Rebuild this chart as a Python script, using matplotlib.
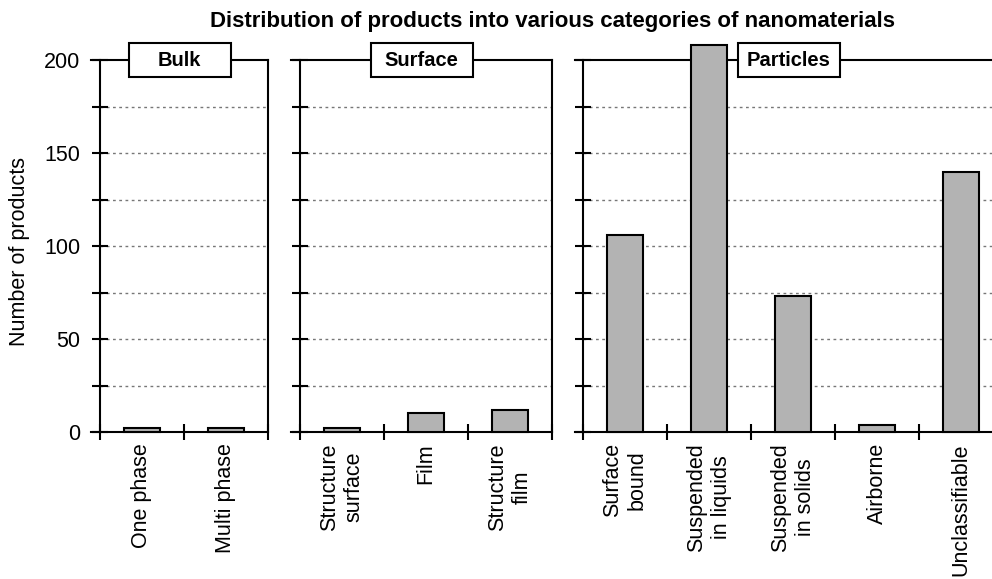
from matplotlib import pyplot as plt
from matplotlib.patches import Rectangle

plt.rcParams['font.family'] = ['Liberation Sans', 'DejaVu Sans']

# data
bulk_labels = ['One phase', 'Multi phase']
bulk_values = [2, 2]
surface_labels = ['Structure\nsurface', 'Film', 'Structure\nfilm']
surface_values = [2, 10, 12]
particle_labels = ['Surface\nbound', 'Suspended\nin liquids', 'Suspended\nin solids',
                   'Airborne', 'Unclassifiable']
particle_values = [106, 208, 73, 4, 140]
panel_titles = ['Bulk', 'Surface', 'Particles']
y_ticks = [0, 25, 50, 75, 100, 125, 150, 175, 200]
y_ticklabels = ['0', '', '50', '', '100', '', '150', '', '200']

W, H = 992, 579
fig = plt.figure(figsize=(W / 100, H / 100), dpi=100)

# panel left / right edges in pixels
panels = [
    (91, 268, bulk_labels, bulk_values),
    (291, 552, surface_labels, surface_values),
    (575, 1003, particle_labels, particle_values),
]
top_px, bot_px = 60, 432
cat_px = 84.0

for i, (l, r, labels, values) in enumerate(panels):
    n = len(values)
    ax = fig.add_axes([l / W, 1 - bot_px / H, (r - l) / W, (bot_px - top_px) / H])
    ext = (r - l) / cat_px - n
    ax.set_xlim(-0.5 - ext, n - 0.5)
    ax.set_ylim(0, 200)
    ax.spines['left'].set_position(('data', -0.5))
    for s in ax.spines.values():
        s.set_linewidth(1.5)

    x = list(range(n))
    ax.bar(x, values, width=0.44, color='#b3b3b3', edgecolor='black',
           linewidth=1.5, zorder=3, clip_on=False)
    ax.hlines(y_ticks[1:-1], -0.5, n - 0.5, colors='#777777', linestyles=(0, (2, 2.5)),
              linewidth=1.0, zorder=1)

    ax.set_yticks(y_ticks)
    if i == 0:
        ax.set_yticklabels(y_ticklabels)
    else:
        ax.set_yticklabels([])
    ax.tick_params(axis='y', direction='inout', length=12, width=1.5,
                   labelsize=15.5, pad=8)

    ax.set_xticks([k - 0.5 for k in range(n + 1)])
    ax.set_xticklabels([])
    ax.set_xticks(x, minor=True)
    ax.set_xticklabels(labels, minor=True, rotation=90, ha='center', va='top',
                       multialignment='center', fontsize=15.5)
    ax.tick_params(axis='x', which='major', direction='inout', length=12, width=1.5)
    ax.tick_params(axis='x', which='minor', length=0, pad=8)

    # boxed panel title centred on the top spine
    bw, bh = 102 / (r - l), 34 / (bot_px - top_px)
    ax.add_patch(Rectangle((0.5 - bw / 2, 1 - bh / 2), bw, bh, transform=ax.transAxes,
                           facecolor='white', edgecolor='black', linewidth=1.5,
                           zorder=5, clip_on=False))
    ax.text(0.5, 1.0, panel_titles[i], transform=ax.transAxes, ha='center',
            va='center', fontsize=14.5, fontweight='bold', zorder=6)

fig.text(20 / W, 1 - 251 / H, 'Number of products', rotation=90, ha='center',
         va='center', fontsize=15.5)
fig.text(552 / W, 1 - 22 / H,
         'Distribution of products into various categories of nanomaterials',
         ha='center', va='center', fontsize=16, fontweight='bold')

fig.savefig('out.png', dpi=100)
